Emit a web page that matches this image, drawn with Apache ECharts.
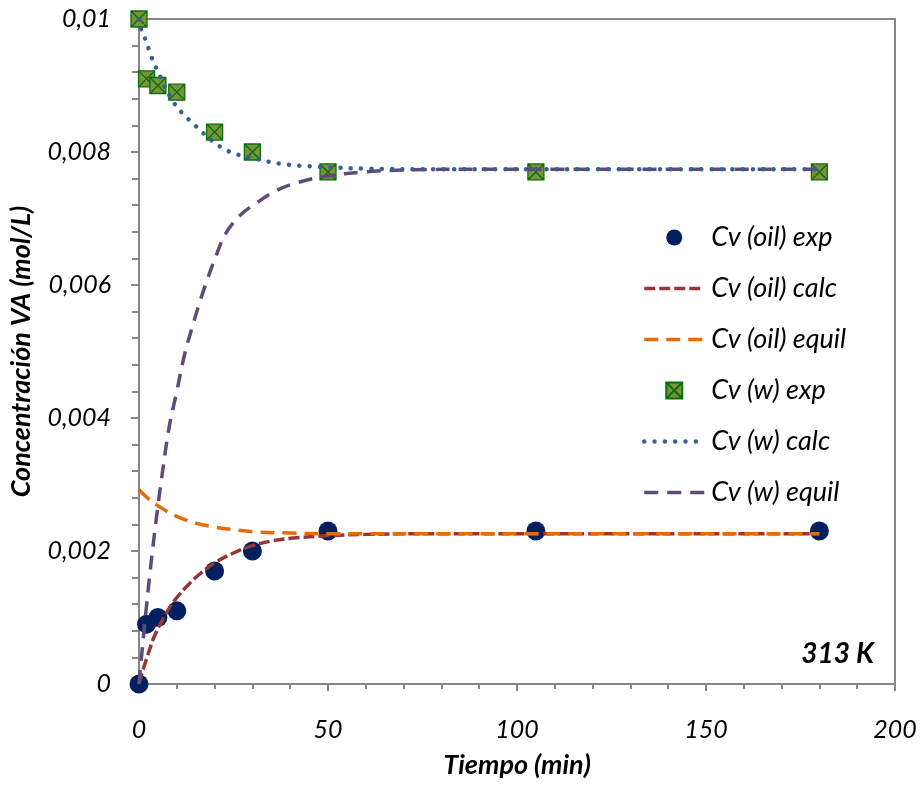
<!DOCTYPE html>
<html>
<head>
<meta charset="utf-8">
<script src="https://cdn.jsdelivr.net/npm/echarts@6/dist/echarts.min.js"></script>
<style>
  html, body { margin: 0; padding: 0; background: #ffffff; }
  #chart { width: 923px; height: 787px; }
</style>
</head>
<body>
<div id="chart"></div>
<script>
// Experimental points (time in min, concentration in mol/L)
var expTime = [0, 2, 5, 10, 20, 30, 50, 105, 180];
var oilExp = [0, 0.0009, 0.0010, 0.0011, 0.0017, 0.0020, 0.0023, 0.0023, 0.0023];
var wExp = [0.0100, 0.0091, 0.0090, 0.0089, 0.0083, 0.0080, 0.0077, 0.0077, 0.0077];

// Calculated oil-phase curve
var oilCalcTime = [0, 1, 2, 3, 4, 6, 8, 10, 13, 16, 20, 25, 30, 35, 40, 50, 60, 80, 120, 180];
var oilCalc = [0, 0.00020, 0.00038, 0.00055, 0.00071, 0.00094, 0.00114, 0.00130, 0.00149, 0.00165,
               0.00182, 0.00197, 0.00208, 0.00215, 0.00219, 0.00223, 0.00225, 0.00226, 0.00226, 0.00226];

// Oil-phase equilibrium curve
var oilEquilTime = [0, 2, 5, 10, 15, 20, 25, 30, 40, 50, 60, 80, 120, 180];
var oilEquil = [0.00292, 0.00281, 0.00268, 0.00252, 0.00242, 0.00236, 0.00232, 0.00229,
                0.00227, 0.00226, 0.00226, 0.00226, 0.00226, 0.00226];

// Calculated water-phase curve
var wCalcTime = [0, 0.5, 1.7, 3, 4, 5, 6.2, 7.3, 8.7, 10, 11.7, 13.7, 15.8, 17.8, 20, 22.4, 25,
                 27.6, 30, 33, 35.5, 38, 41, 44, 47, 50, 60, 80, 120, 180];
var wCalc = [0.01000, 0.00986, 0.00969, 0.00948, 0.00933, 0.00921, 0.00906, 0.00893, 0.00879, 0.00868,
             0.00857, 0.00846, 0.00835, 0.00824, 0.00814, 0.00805, 0.00798, 0.00794, 0.00791, 0.00787,
             0.00784, 0.00782, 0.00780, 0.00779, 0.00778, 0.00777, 0.00775, 0.00774, 0.00774, 0.00774];

// Water-phase equilibrium curve
var wEquilTime = [0, 0.5, 1.5, 3, 4.5, 6, 8, 10, 12, 14, 16, 18, 20, 23, 27, 31, 36, 42, 50, 60, 70, 90, 120, 180];
var wEquil = [0, 0.00031, 0.00090, 0.00172, 0.00245, 0.00310, 0.00387, 0.00440, 0.00494, 0.00535,
              0.00573, 0.00607, 0.00638, 0.00678, 0.00706, 0.00723, 0.00741, 0.00754, 0.00764, 0.00770,
              0.00773, 0.00774, 0.00774, 0.00774];

var seriesNames = ['Cv (oil) exp', 'Cv (oil) calc', 'Cv (oil) equil', 'Cv (w) exp', 'Cv (w) calc', 'Cv (w) equil'];
var xTicks = [0, 50, 100, 150, 200];
var yTicks = ['0', '0,002', '0,004', '0,006', '0,008', '0,01'];
var temperatureLabel = '313 K';

function pairs(xs, ys) {
  return xs.map(function (x, i) { return [x, ys[i]]; });
}

var FONT = 'Lato';
var AXIS_GRAY = '#868686';

// stroke styles shared by the curves and their legend keys
var styles = {};
styles[seriesNames[1]] = { color: '#953735', width: 3.5, type: [11, 4] };
styles[seriesNames[2]] = { color: '#E46C0A', width: 3.5, type: [14, 8] };
styles[seriesNames[4]] = { color: '#376092', width: 4.5, type: [0.01, 10.3], cap: 'round' };
styles[seriesNames[5]] = { color: '#604A7B', width: 3.5, type: [14, 9] };

var chart = echarts.init(document.getElementById('chart'), null, { renderer: 'canvas' });

// square marker crossed by both diagonals
var squareCross = 'path://M0,0L16,0L16,16L0,16Z M0,0L16,16 M16,0L0,16';

// line series: legend shows only the stroke, no centre marker
function lineSeries(name, xs, ys, z) {
  var st = styles[name];
  return {
    name: name,
    type: 'line',
    data: pairs(xs, ys),
    smooth: 0.4,
    symbol: 'none',
    lineStyle: Object.assign({}, st),
    itemStyle: { color: st.color, opacity: 0 },
    z: z
  };
}

var legendData = seriesNames.map(function (name) {
  var item = { name: name };
  if (styles[name]) item.lineStyle = Object.assign({}, styles[name]);
  return item;
});

chart.setOption({
  animation: false,
  backgroundColor: '#ffffff',
  textStyle: { fontFamily: FONT },
  grid: {
    left: 138, right: 28, top: 19, bottom: 103,
    show: true, borderColor: AXIS_GRAY, borderWidth: 2, backgroundColor: 'transparent'
  },
  legend: {
    orient: 'vertical',
    left: 637,
    top: 219,
    itemWidth: 60,
    itemHeight: 16,
    itemGap: 24,
    data: legendData,
    textStyle: {
      fontFamily: FONT, fontStyle: 'italic', fontSize: 27, color: '#000', lineHeight: 27,
      padding: [0, 0, 0, 2]
    }
  },
  xAxis: {
    type: 'value',
    min: 0, max: 200, interval: 50,
    name: 'Tiempo (min)',
    nameLocation: 'middle',
    nameGap: 68,
    nameTextStyle: { fontFamily: FONT, fontStyle: 'italic', fontWeight: 'bold', fontSize: 27, color: '#000' },
    axisLine: { show: true, onZero: false, lineStyle: { color: AXIS_GRAY, width: 2 } },
    axisTick: { show: true, length: 7, lineStyle: { color: AXIS_GRAY, width: 2 } },
    minorTick: { show: true, splitNumber: 5, length: 5, lineStyle: { color: AXIS_GRAY, width: 2 } },
    splitLine: { show: false },
    axisLabel: {
      margin: 33,
      fontFamily: FONT, fontStyle: 'italic', fontSize: 25, color: '#000',
      formatter: function (v) { return String(xTicks[xTicks.indexOf(v)]); }
    }
  },
  yAxis: {
    type: 'value',
    min: 0, max: 0.01, interval: 0.002,
    name: 'Concentración VA (mol/L)',
    nameLocation: 'middle',
    nameGap: 104,
    nameTextStyle: { fontFamily: FONT, fontStyle: 'italic', fontWeight: 'bold', fontSize: 27, color: '#000' },
    axisLine: { show: true, onZero: false, lineStyle: { color: AXIS_GRAY, width: 2 } },
    axisTick: { show: true, length: 8, lineStyle: { color: AXIS_GRAY, width: 2 } },
    minorTick: { show: true, splitNumber: 5, length: 7, lineStyle: { color: AXIS_GRAY, width: 2 } },
    splitLine: { show: false },
    axisLabel: {
      margin: 28,
      fontFamily: FONT, fontStyle: 'italic', fontSize: 25, color: '#000',
      formatter: function (v) { return yTicks[Math.round(v / 0.002)]; }
    }
  },
  graphic: [{
    type: 'text',
    x: 874, y: 654,
    style: {
      text: temperatureLabel,
      font: 'italic bold 28px ' + FONT,
      fill: '#000',
      align: 'right',
      verticalAlign: 'middle'
    },
    z: 10
  }],
  series: [
    {
      name: seriesNames[0],
      type: 'scatter',
      data: pairs(expTime, oilExp),
      symbol: 'circle',
      symbolSize: 19,
      itemStyle: { color: '#002060', opacity: 1 },
      z: 2
    },
    {
      name: seriesNames[3],
      type: 'scatter',
      data: pairs(expTime, wExp),
      symbol: squareCross,
      symbolSize: 16,
      itemStyle: { color: '#77933C', borderColor: '#0A6E0A', borderWidth: 1.3, opacity: 1 },
      z: 2
    },
    lineSeries(seriesNames[1], oilCalcTime, oilCalc, 3),
    lineSeries(seriesNames[2], oilEquilTime, oilEquil, 3),
    lineSeries(seriesNames[4], wCalcTime, wCalc, 4),
    lineSeries(seriesNames[5], wEquilTime, wEquil, 3)
  ]
});
</script>
</body>
</html>
